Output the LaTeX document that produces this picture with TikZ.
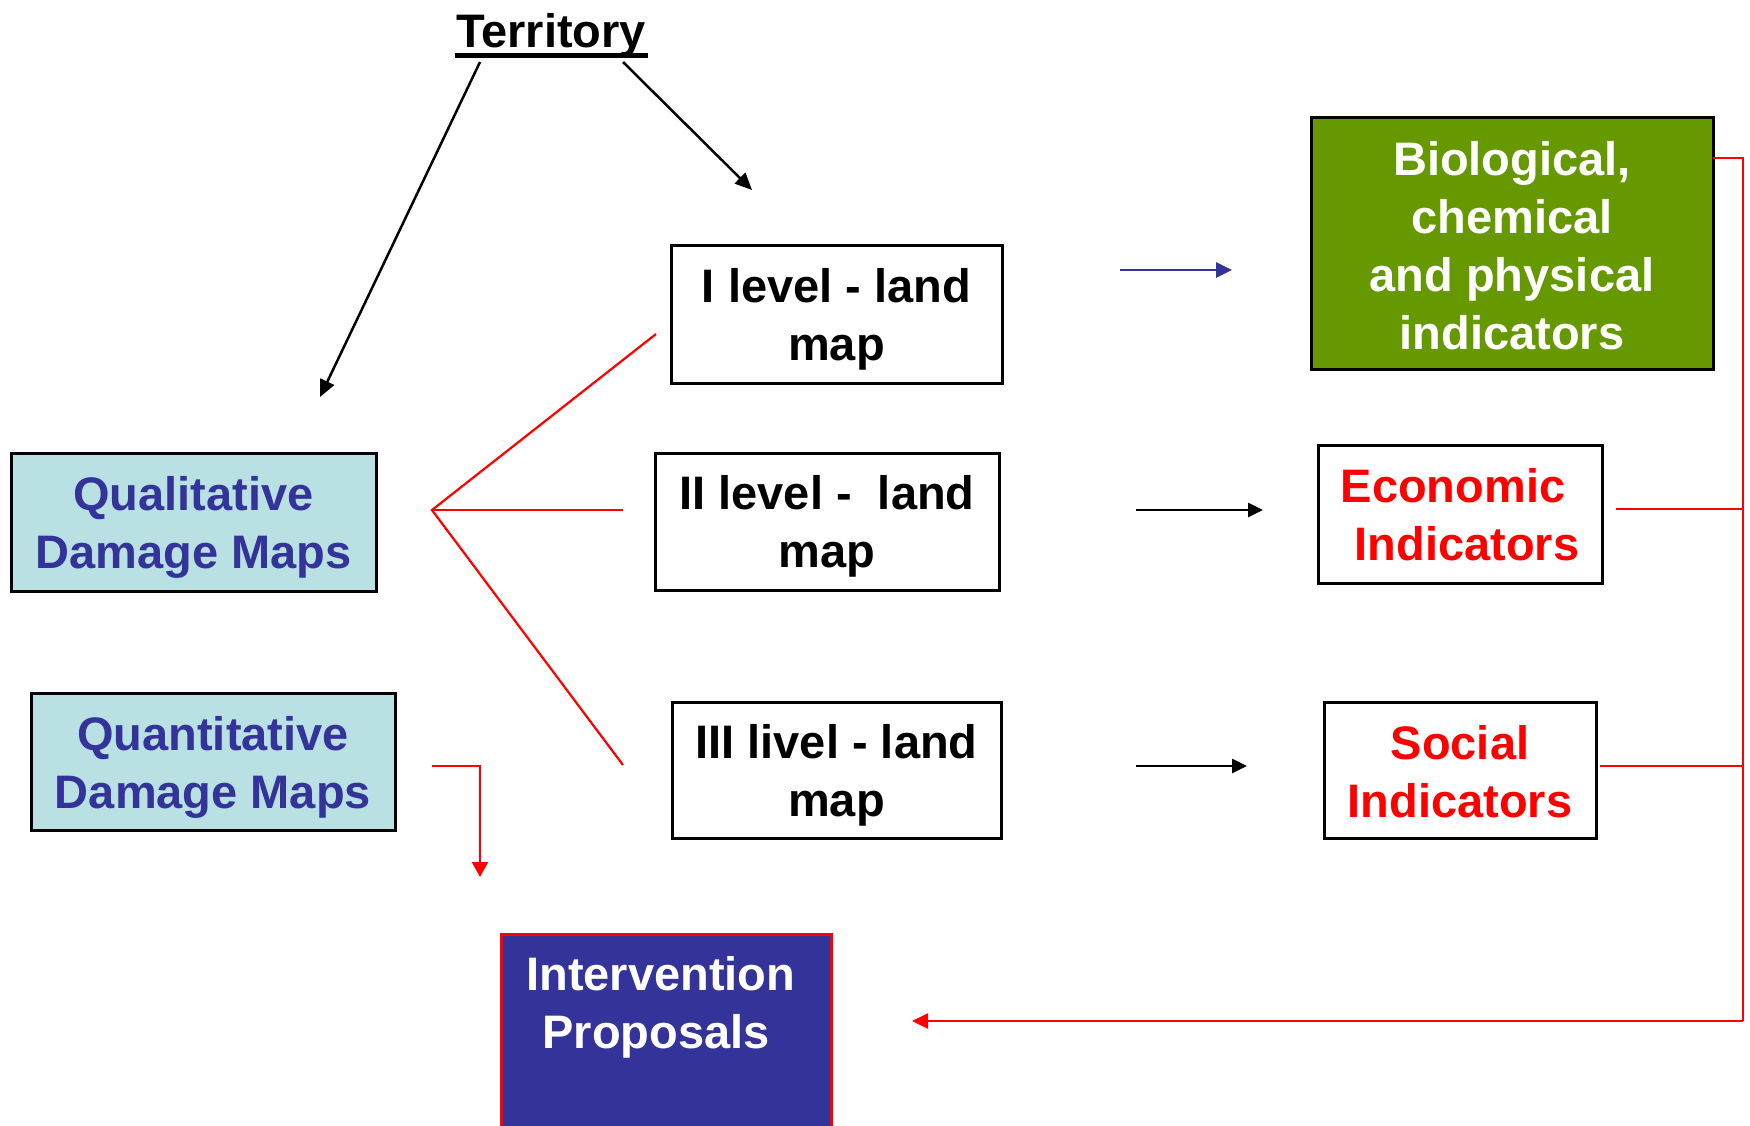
\documentclass[tikz,border=0pt]{standalone}
\usepackage{fontspec}
\setmainfont{Liberation Sans}
\usetikzlibrary{arrows.meta}
\definecolor{navy}{HTML}{333399}
\definecolor{paleblue}{HTML}{B9E0E3}
\definecolor{leaf}{HTML}{669900}
\definecolor{pred}{HTML}{FF0000}
\newcommand\tstrut[1]{\rule{0pt}{#1}}
\begin{document}
\begin{tikzpicture}[x=1pt,y=-1pt,
  bigtext/.style={font=\fontsize{47}{58}\selectfont\bfseries},
  box/.style={draw=black, line width=3pt, rectangle, inner sep=0pt, align=center, bigtext},
  lvlbox/.style={box, fill=white, text=black},
  mapbox/.style={box, fill=paleblue, text=navy},
  indbox/.style={box, fill=white, text=pred},
  redline/.style={draw=pred, line width=2.2pt},
  tip/.style={-{Triangle[length=15pt,width=14pt]}},
  blackarrow/.style={draw=black, line width=2.8pt, tip},
]
\useasboundingbox (0,0) rectangle (1750,1125);

% Title
\node[bigtext, anchor=base, inner sep=0pt] (terr) at (551,47) {Territory};
\draw[line width=5pt] (455,55.5) -- (648,55.5);

% Boxes
\node[lvlbox, minimum width=331, minimum height=138] (lvl1) at (836.5,314) {\tstrut{44pt}I level - land\\map};
\node[lvlbox, minimum width=344, minimum height=137] (lvl2) at (827,521.5) {\tstrut{44pt}II level - \ land\\map};
\node[lvlbox, minimum width=329, minimum height=136] (lvl3) at (836.5,770) {\tstrut{44pt}III livel - land\\map};
\node[mapbox, minimum width=365, minimum height=138] (qual) at (193.5,522) {\tstrut{44pt}Qualitative\\Damage Maps};
\node[mapbox, minimum width=364, minimum height=137] (quant) at (213,761.5) {\tstrut{46pt}Quantitative\\Damage Maps};
\node[box, fill=leaf, text=white, minimum width=402, minimum height=252] (bio) at (1512,243) {\tstrut{39pt}Biological,\\chemical\\and physical\\indicators};
\node[indbox, minimum width=284, minimum height=138] (econ) at (1460,514) {\tstrut{36pt}\hspace*{-0.3em}Economic\\\hspace*{0.3em}Indicators};
\node[indbox, minimum width=272, minimum height=136] (soc) at (1460,770) {\tstrut{38pt}Social\\Indicators};
\node[draw=pred, line width=3pt, fill=navy, minimum width=330, minimum height=200, anchor=north, inner sep=0pt] (int) at (666,933) {};
\node[bigtext, text=white, align=center, inner sep=0pt] (intlabel) at (656,1007) {\hspace*{0.2em}Intervention\\Proposals};

% Coordinates for free ends
\coordinate (tL) at (480,62);
\coordinate (tLend) at (320,397);
\coordinate (tR) at (623,62);
\coordinate (tRend) at (752,190);
\coordinate (fan) at (432,510);
\coordinate (fan1) at (656,334);
\coordinate (fan2) at (623,510);
\coordinate (fan3) at (623,765);
\coordinate (qs) at (432,766);
\coordinate (qe) at (480,877);
\coordinate (b1s) at (1120,270);
\coordinate (b1e) at (1232,270);
\coordinate (e1s) at (1136,510);
\coordinate (e1e) at (1263,510);
\coordinate (s1s) at (1136,766);
\coordinate (s1e) at (1247,766);
\coordinate (bioR) at (1713,158);
\coordinate (busTop) at (1743,158);
\coordinate (busBot) at (1743,1021);
\coordinate (econR) at (1616,509);
\coordinate (socR) at (1600,766);
\coordinate (intArr) at (912,1021);

% Territory arrows
\draw[draw=black, line width=2.5pt, -{Triangle[length=17pt,width=15pt]}] (tL) -- (tLend);
\draw[draw=black, line width=2.5pt, -{Triangle[length=17pt,width=15pt]}] (tR) -- (tRend);

% Red fan
\draw[redline, line join=miter] (fan1) -- (fan) -- (fan3);
\draw[redline] (fan) -- (fan2);

% Quantitative arrow
\draw[redline, -{Triangle[length=15pt,width=16pt]}] (qs) -| (qe);

% Indicator arrows
\draw[draw=navy, line width=2.8pt, -{Triangle[length=16pt,width=15pt]}] (b1s) -- (b1e);
\draw[blackarrow] (e1s) -- (e1e);
\draw[blackarrow] (s1s) -- (s1e);

% Right bus
\draw[redline] (bioR) -- (busTop) -- (busBot);
\draw[redline] (econR) -- (econR -| busTop);
\draw[redline] (socR) -- (socR -| busTop);
\draw[redline, -{Triangle[length=16pt,width=15pt]}] (busBot) -- (intArr);
\end{tikzpicture}
\end{document}
